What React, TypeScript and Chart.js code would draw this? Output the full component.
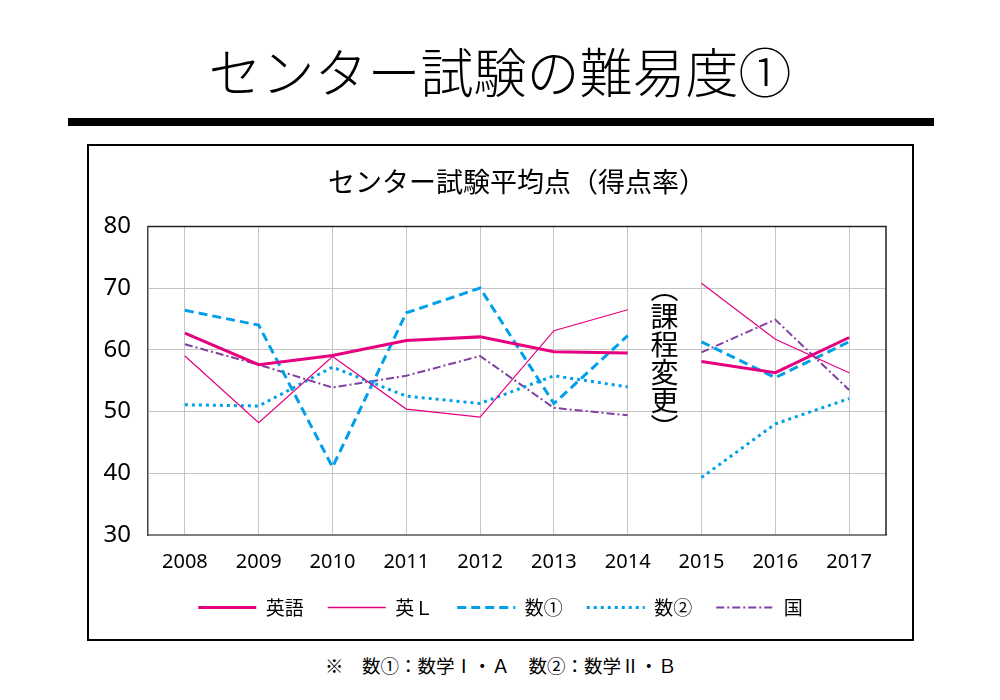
import React, { useEffect, useRef } from "react";
import { Chart, registerables } from "chart.js";

Chart.register(...registerables);

const years = ["2008", "2009", "2010", "2011", "2012", "2013", "2014", "2015", "2016", "2017"];
const english = [62.7, 57.6, 59.1, 61.5, 62.1, 59.7, 59.5, 58.1, 56.3, 62.0];
const englishL = [59.0, 48.2, 58.9, 50.4, 49.1, 63.1, 66.5, 70.8, 61.7, 56.3];
const math1 = [66.4, 64.0, 41.0, 66.0, 70.0, 51.3, 62.3, 61.3, 55.5, 61.3];
const math2 = [51.1, 50.9, 57.2, 52.5, 51.3, 55.8, 54.0, 39.3, 48.0, 52.1];
const japanese = [60.9, 57.6, 53.9, 55.8, 59.0, 50.6, 49.4, 59.6, 64.9, 53.5];
const seriesNames = ["英語", "英Ｌ", "数①", "数②", "国"];
const yTicks = { min: 30, max: 80, step: 10 };
const gapAfterIndex = 6;
const noteChars = ["︵", "課", "程", "変", "更", "︶"];
const noteValue = 58.7;

const JP = '"Noto Sans CJK JP", "Noto Sans", sans-serif';
const MAGENTA = "#e5007f";
const BLUE = "#00a0e9";
const PURPLE = "#8040a0";

export default function App() {
  const ref = useRef<HTMLCanvasElement | null>(null);

  useEffect(() => {
    if (!ref.current) return;
    const gapSegment = {
      borderColor: (ctx: any) => (ctx.p0DataIndex === gapAfterIndex ? "rgba(0,0,0,0)" : undefined),
    };
    const mk = (label: string, data: number[], color: string, width: number, dash: number[]) => ({
      label,
      data,
      borderColor: color,
      backgroundColor: color,
      borderWidth: width,
      borderDash: dash,
      pointRadius: 0,
      pointHoverRadius: 0,
      fill: false,
      tension: 0,
      segment: gapSegment,
      yAxisID: "y",
    });

    const notePlugin = {
      id: "notePlugin",
      afterDatasetsDraw(chart: any) {
        const { ctx, chartArea, scales } = chart;
        const x = (scales.x.getPixelForValue(gapAfterIndex) + scales.x.getPixelForValue(gapAfterIndex + 1)) / 2;
        const yMid = scales.y.getPixelForValue(noteValue);
        const step = 28;
        ctx.save();
        ctx.fillStyle = "#000";
        ctx.font = `28px ${JP}`;
        ctx.textAlign = "center";
        ctx.textBaseline = "middle";
        const n = noteChars.length;
        noteChars.forEach((c, i) => {
          const y = yMid + (i - (n - 1) / 2) * step;
          ctx.fillText(c, x, y);
        });
        ctx.strokeStyle = "#222";
        ctx.lineWidth = 1.5;
        ctx.setLineDash([]);
        ctx.beginPath();
        ctx.moveTo(chartArea.left, chartArea.top);
        ctx.lineTo(chartArea.right, chartArea.top);
        ctx.lineTo(chartArea.right, chartArea.bottom);
        ctx.stroke();
        ctx.restore();
      },
    };

    const chart = new Chart(ref.current, {
      type: "line",
      data: {
        labels: years,
        datasets: [
          mk(seriesNames[0], english, MAGENTA, 3, []),
          mk(seriesNames[1], englishL, MAGENTA, 1.2, []),
          mk(seriesNames[2], math1, BLUE, 3, [9, 5]),
          mk(seriesNames[3], math2, BLUE, 3, [3, 4]),
          mk(seriesNames[4], japanese, PURPLE, 2, [8, 3, 2, 3]),
        ] as any,
      },
      options: {
        responsive: false,
        animation: false,
        events: [],
        layout: { padding: { left: 0, right: 0, top: 0, bottom: 12 } },
        plugins: {
          tooltip: { enabled: false },
          title: {
            display: true,
            fullSize: false,
            text: "センター試験平均点（得点率）",
            color: "#000",
            font: { family: JP, size: 27, weight: "normal" },
            padding: { top: 20, bottom: 28 },
          },
          legend: {
            display: true,
            position: "bottom",
            labels: {
              color: "#000",
              font: { family: JP, size: 19 },
              usePointStyle: true,
              pointStyleWidth: 58,
              padding: 24,
              generateLabels: (c: any) =>
                c.data.datasets.map((ds: any, i: number) => ({
                  text: ds.label,
                  fillStyle: ds.borderColor,
                  strokeStyle: ds.borderColor,
                  lineWidth: Math.max(ds.borderWidth, 1.6),
                  lineDash: ds.borderDash,
                  lineCap: "butt",
                  pointStyle: "line",
                  fontColor: "#000",
                  hidden: false,
                  datasetIndex: i,
                })),
            },
          },
        },
        scales: {
          x: {
            offset: true,
            grid: { color: "#c4c4c4", lineWidth: 1, offset: false, drawTicks: false },
            border: { color: "#808080", width: 2 },
            ticks: { color: "#000", font: { family: '"Noto Sans", sans-serif', size: 20 }, padding: 15, maxRotation: 0, autoSkip: false },
            afterFit: (s: any) => { s.height = 39; },
          },
          y: {
            min: yTicks.min,
            max: yTicks.max,
            grid: { color: "#c4c4c4", lineWidth: 1, drawTicks: false },
            border: { color: "#444", width: 1.5 },
            ticks: { stepSize: yTicks.step, color: "#000", font: { family: '"Noto Sans", sans-serif', size: 24 }, padding: 17 },
            afterFit: (s: any) => { s.width = 59; },
          },
          yR: {
            position: "right",
            display: true,
            grid: { display: false, drawTicks: false },
            border: { display: false },
            ticks: { display: false },
            afterFit: (s: any) => { s.width = 26; },
          },
        },
      },
      plugins: [notePlugin],
    });
    return () => chart.destroy();
  }, []);

  return (
    <div style={{ position: "absolute", left: 0, top: 0, width: 1000, height: 700, background: "#fff", overflow: "hidden" }}>
      <div
        style={{
          position: "absolute", left: 0, top: 40, width: 1000, height: 60, lineHeight: "60px",
          textAlign: "center", fontFamily: JP, fontWeight: 300, fontSize: 53, color: "#000", whiteSpace: "nowrap",
        }}
      >
        センター試験の難易度①
      </div>
      <div style={{ position: "absolute", left: 68, top: 118, width: 866, height: 8, background: "#000" }} />
      <div
        style={{
          position: "absolute", left: 87, top: 144, width: 827, height: 497,
          border: "2px solid #000", boxSizing: "border-box",
        }}
      />
      <canvas ref={ref} width={823} height={493} style={{ position: "absolute", left: 89, top: 146, width: 823, height: 493 }} />
      <div
        style={{
          position: "absolute", left: 325, top: 652, height: 26, lineHeight: "26px",
          fontFamily: JP, fontSize: 18.5, color: "#000", whiteSpace: "nowrap",
        }}
      >
        ※　数①：数学Ⅰ・Ａ　数②：数学Ⅱ・Ｂ
      </div>
    </div>
  );
}
